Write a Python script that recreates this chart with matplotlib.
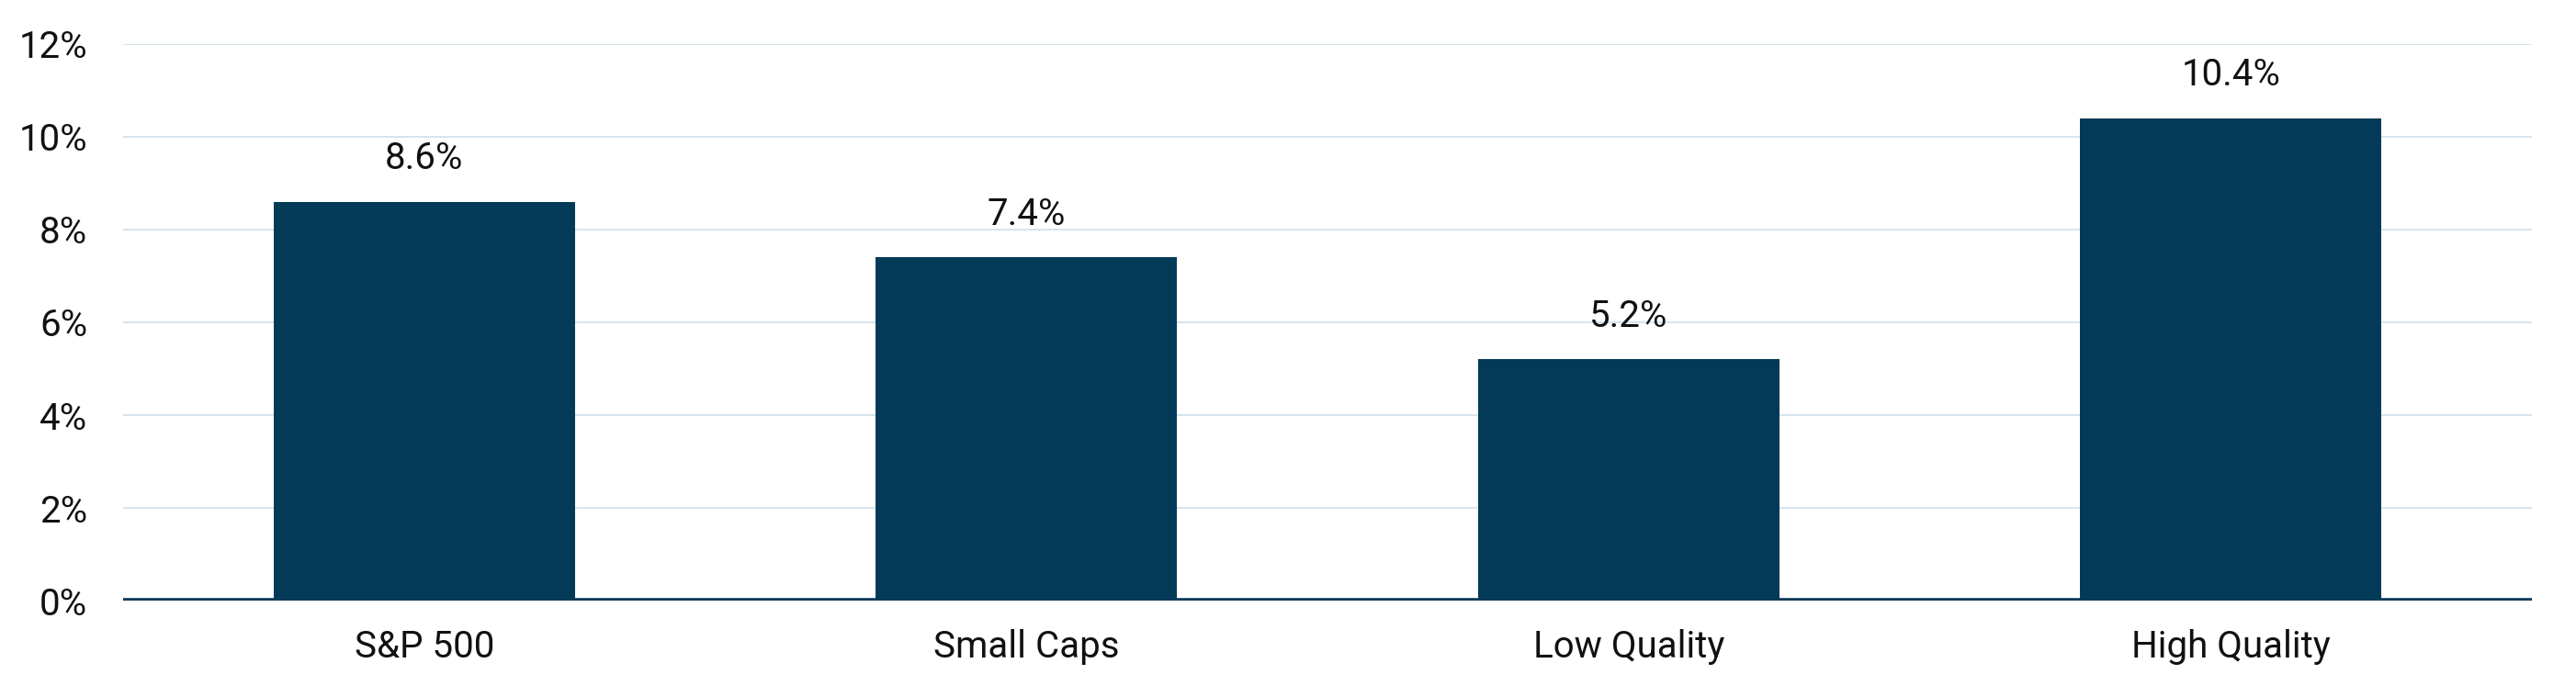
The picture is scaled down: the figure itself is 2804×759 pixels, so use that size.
import matplotlib.pyplot as plt
from matplotlib.ticker import FuncFormatter

plt.rcParams['font.family'] = ['Roboto', 'DejaVu Sans']

# data
categorias = ['S&P 500', 'Small Caps', 'Low Quality', 'High Quality']
valores = [8.6, 7.4, 5.2, 10.4]
etiquetas = ['8.6%', '7.4%', '5.2%', '10.4%']
ticks_y = [0, 2, 4, 6, 8, 10, 12]

color_barra = '#033a58'
color_grid = '#d3e5ee'

fig = plt.figure(figsize=(14.02, 3.795), dpi=200)
ax = fig.add_axes([0.0478, 0.1383, 0.9351, 0.7985])

x = range(len(categorias))
barras = ax.bar(x, valores, width=0.5, color=color_barra, zorder=2)

for b, txt in zip(barras, etiquetas):
    ax.annotate(txt, (b.get_x() + b.get_width() / 2, b.get_height()),
                xytext=(0, 10), textcoords='offset points',
                ha='center', va='bottom', fontsize=14.5, color='#111111')

ax.set_xlim(-0.5, len(categorias) - 0.5)
ax.set_ylim(0, 12)
ax.set_yticks(ticks_y)
ax.yaxis.set_major_formatter(FuncFormatter(lambda v, p: f'{v:.0f}%'))
ax.set_xticks(list(x))
ax.set_xticklabels(categorias)

ax.grid(axis='y', color=color_grid, linewidth=0.7, zorder=0)
ax.axhline(0, color=color_barra, linewidth=2.0, zorder=3)

for s in ax.spines.values():
    s.set_visible(False)
ax.tick_params(axis='both', length=0, labelsize=14.5, colors='#111111')
ax.tick_params(axis='y', pad=14)
ax.tick_params(axis='x', pad=11)

fig.savefig('out.png', dpi=200, facecolor='white')
